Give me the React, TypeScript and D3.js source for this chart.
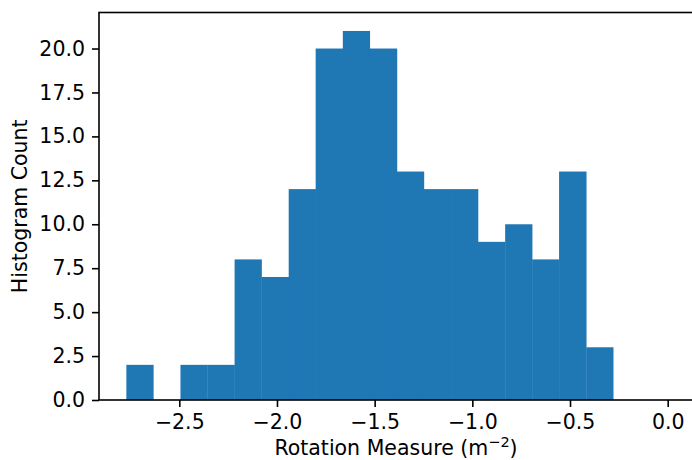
import React, { useEffect, useRef } from 'react';
import * as d3 from 'd3';

// histogram bin edges (rotation measure) and counts
const binEdges = [-2.771, -2.633, -2.494, -2.356, -2.217, -2.079, -1.940, -1.802, -1.663, -1.525, -1.386, -1.248, -1.109, -0.971, -0.832, -0.694, -0.556, -0.417, -0.279];
const counts = [2, 0, 2, 2, 8, 7, 12, 20, 21, 20, 13, 12, 12, 9, 10, 8, 13, 3];
const xTicks = [-2.5, -2.0, -1.5, -1.0, -0.5, 0.0];
const yTicks = [0, 2.5, 5, 7.5, 10, 12.5, 15, 17.5, 20];

export default function App() {
  const ref = useRef<SVGSVGElement>(null);

  useEffect(() => {
    const width = 692;
    const height = 460;
    const left = 99, right = 697, top = 12.5, bottom = 400;
    const font = 'DejaVu Sans, sans-serif';
    const fs = 20.5;

    const svg = d3.select(ref.current);
    svg.selectAll('*').remove();

    // axis limits as matplotlib would pad them (right spine falls outside the crop)
    const x = d3.scaleLinear().domain([-2.911, 0.150]).range([left, right]);
    const y = d3.scaleLinear().domain([0, 22.05]).range([bottom, top]);

    const bins = counts.map((c, i) => ({ x0: binEdges[i], x1: binEdges[i + 1], c }));

    svg.append('g')
      .selectAll('rect')
      .data(bins.filter(b => b.c > 0))
      .enter().append('rect')
      .attr('x', d => x(d.x0))
      .attr('width', d => x(d.x1) - x(d.x0) + 0.3)
      .attr('y', d => y(d.c))
      .attr('height', d => y(0) - y(d.c))
      .attr('fill', '#1f77b4');

    // x axis
    const xAxis = svg.append('g')
      .attr('transform', `translate(0,${bottom})`)
      .call(d3.axisBottom(x).tickValues(xTicks).tickFormat(d3.format('.1f')).tickSize(7).tickPadding(7).tickSizeOuter(0));
    xAxis.select('.domain').remove();
    xAxis.selectAll('line').attr('stroke', '#000').attr('stroke-width', 1.6);
    xAxis.selectAll('text').attr('font-size', fs).attr('font-family', font).attr('fill', '#000');

    // y axis
    const yAxis = svg.append('g')
      .attr('transform', `translate(${left},0)`)
      .call(d3.axisLeft(y).tickValues(yTicks).tickFormat(d3.format('.1f')).tickSize(7).tickPadding(7).tickSizeOuter(0));
    yAxis.select('.domain').remove();
    yAxis.selectAll('line').attr('stroke', '#000').attr('stroke-width', 1.6);
    yAxis.selectAll('text').attr('font-size', fs).attr('font-family', font).attr('fill', '#000');

    // spines
    svg.append('rect')
      .attr('x', left).attr('y', top)
      .attr('width', right - left).attr('height', bottom - top)
      .attr('fill', 'none').attr('stroke', '#000').attr('stroke-width', 1.6);

    // labels
    const xl = svg.append('text')
      .attr('x', (left + right) / 2 - 2).attr('y', 455)
      .attr('text-anchor', 'middle')
      .attr('font-size', fs).attr('font-family', font);
    xl.append('tspan').text('Rotation Measure (m');
    xl.append('tspan').attr('dy', -8).attr('font-size', 14.5).text('−2');
    xl.append('tspan').attr('dy', 8).text(')');

    svg.append('text')
      .attr('transform', `translate(27,${(top + bottom) / 2}) rotate(-90)`)
      .attr('text-anchor', 'middle')
      .attr('font-size', fs).attr('font-family', font)
      .text('Histogram Count');

    svg.attr('width', width).attr('height', height);
  }, []);

  return (
    <svg ref={ref} width={692} height={460}
      style={{ position: 'absolute', left: 0, top: 0, overflow: 'hidden', background: '#fff' }} />
  );
}
